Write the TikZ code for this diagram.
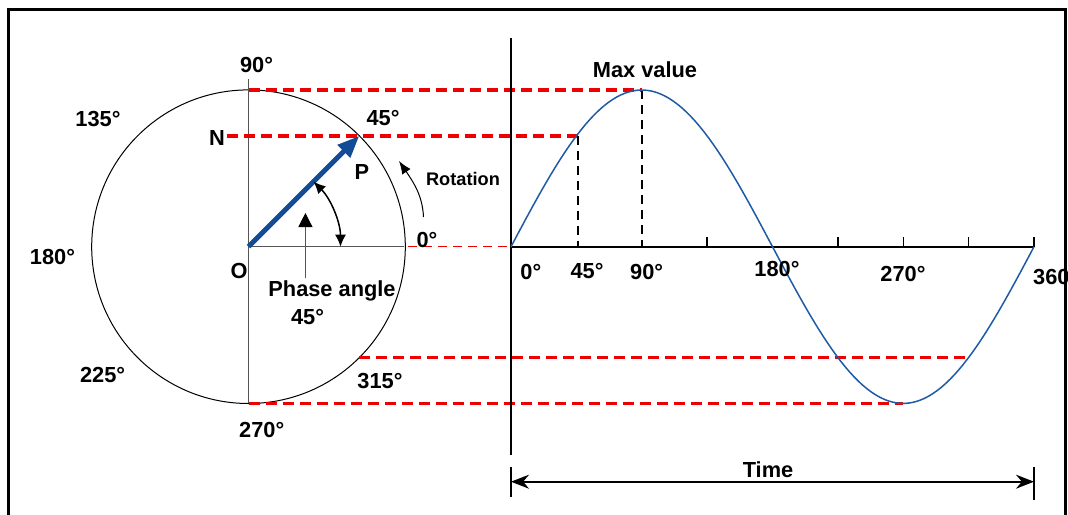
\documentclass[tikz,border=0pt]{standalone}
\usepackage{fontspec}
\newfontfamily\labfont{Liberation Sans}
\usetikzlibrary{arrows.meta}
\definecolor{dashred}{HTML}{EE0000}
\definecolor{sineblue}{HTML}{1F5AA6}
\definecolor{vecblue}{HTML}{124C96}
\definecolor{axgray}{HTML}{555555}
\begin{document}
\begin{tikzpicture}[x=1pt,y=-1pt,
  lab/.style={font=\labfont\bfseries\fontsize{21.8}{26}\selectfont, inner sep=0pt},
  smalllab/.style={font=\labfont\bfseries\fontsize{18.2}{22}\selectfont, inner sep=0pt},
  reddash/.style={draw=dashred, line width=3.5pt, dash pattern=on 11pt off 6pt},
  thinred/.style={draw=dashred, line width=1pt, dash pattern=on 9pt off 6pt},
  blackdash/.style={draw=black, line width=2pt, dash pattern=on 9pt off 6pt},
  grayline/.style={draw=axgray, line width=1pt},
  tickline/.style={draw=black, line width=1.5pt}]
\useasboundingbox (0,0) rectangle (1068,514);
% frame
\draw[line width=3pt] (8.6,9) rectangle (1065.5,540);
% coordinates
\coordinate (O) at (248.5,246.7);
\coordinate (C90) at (248.5,90);
\coordinate (C270) at (248.5,403.4);
\coordinate (C45) at (359.3,135.9);
\coordinate (C315) at (359.3,357.5);
\coordinate (Vtop) at (248.5,79);
\coordinate (Hend) at (404,246.7);
\coordinate (Ntail) at (227,135.9);
\coordinate (ZeroL) at (408,246.7);
\coordinate (A0) at (511,246.7);
\coordinate (Aend) at (1034,246.7);
\coordinate (Atop) at (511,38);
\coordinate (Abot) at (511,455);
\coordinate (S45) at (577.5,135.9);
\coordinate (S45b) at (577.5,246.7);
\coordinate (S90) at (642,90);
\coordinate (S90b) at (642,246.7);
\coordinate (S270) at (903.25,403.4);
\coordinate (S315) at (968.6,357.5);
\coordinate (PAbot) at (305.4,278);
\coordinate (PAtop) at (305.4,213);
\coordinate (ArcS) at (340.5,246.7);
\coordinate (RotS) at (423.5,217);
\coordinate (RotE) at (399,161);
\coordinate (TL) at (511,481.7);
\coordinate (TR) at (1034,481.7);
% circle and its axes
\draw[line width=1pt] (O) circle[radius=156.8];
\draw[grayline] (Vtop) -- (C270);
\draw[grayline] (O) -- (Hend);
% red projection lines
\draw[reddash] (C90) -- (S90);
\draw[reddash] (Ntail) -- (S45);
\draw[reddash] (C315) -- (S315);
\draw[reddash] (C270) -- (S270);
\draw[thinred] (ZeroL) -- (A0);
% sine axes
\draw[line width=1.8pt] (Atop) -- (Abot);
\draw[line width=1.8pt] (A0) -- (Aend);
\foreach \xx in {707.1,837.9,903.25,968.6,1034}{
  \draw[tickline] (\xx,246.7) -- (\xx,237);
}
\draw[blackdash] (S45) -- (S45b);
\draw[blackdash] (S90) -- (S90b);
% sine curve
\draw[sineblue, line width=1.5pt] plot[domain=0:360, samples=120] ({511+\x*1.452778},{246.7-156.7*sin(\x)});
% phasor
\draw[vecblue, line width=5pt, -{Triangle[length=22pt,width=17pt]}] (O) -- (C45);
% angle arc
\draw[line width=1.5pt, {Latex[length=12pt,width=11pt]}-{Latex[length=12pt,width=11pt]}] (ArcS) arc[start angle=0, end angle=-45, radius=92];
% phase angle pointer
\draw[grayline, -{Triangle[length=14pt,width=14pt,color=black]}] (PAbot) -- (PAtop);
% rotation arrow
\draw[line width=1pt, -{Latex[length=13pt,width=10pt]}] (RotS) .. controls (422.5,196) and (414,183) .. (RotE);
% time arrow
\draw[line width=1.6pt, {Stealth[length=18pt,width=14pt]}-{Stealth[length=18pt,width=14pt]}] (TL) -- (TR);
\coordinate (TLa) at (511,467); \coordinate (TLb) at (511,497);
\coordinate (TRa) at (1034,467); \coordinate (TRb) at (1034,500);
\draw[line width=1.8pt] (TLa) -- (TLb);
\draw[line width=1.8pt] (TRa) -- (TRb);
% labels
\node[lab] (l90) at (256.5,65) {90°};
\node[lab] (l135) at (98,119) {135°};
\node[lab] (l45) at (383,118) {45°};
\node[lab] (lN) at (217,137.7) {N};
\node[lab] (lP) at (362,171.7) {P};
\node[smalllab] (lrot) at (463,179) {Rotation};
\node[lab] (l0) at (427,240) {0°};
\node[lab] (l180) at (52.5,257) {180°};
\node[lab] (lO) at (239,271) {O};
\node[lab] (lpa) at (332,290.7) {Phase angle};
\node[lab] (lpa45) at (307.5,316.7) {45°};
\node[lab] (l225) at (102.6,375) {225°};
\node[lab] (l315) at (380,380.7) {315°};
\node[lab] (l270) at (261.7,430) {270°};
\node[lab] (lmax) at (645,70) {Max value};
\node[lab] (a0) at (530.8,271.7) {0°};
\node[lab] (a45) at (587,270.7) {45°};
\node[lab] (a90) at (646.7,271.7) {90°};
\node[lab] (a180) at (777,269.3) {180°};
\node[lab] (a270) at (903,274) {270°};
\node[lab, anchor=west] (a360) at (1033,277) {360};
\node[lab] (ltime) at (768,470) {Time};
\end{tikzpicture}
\end{document}
